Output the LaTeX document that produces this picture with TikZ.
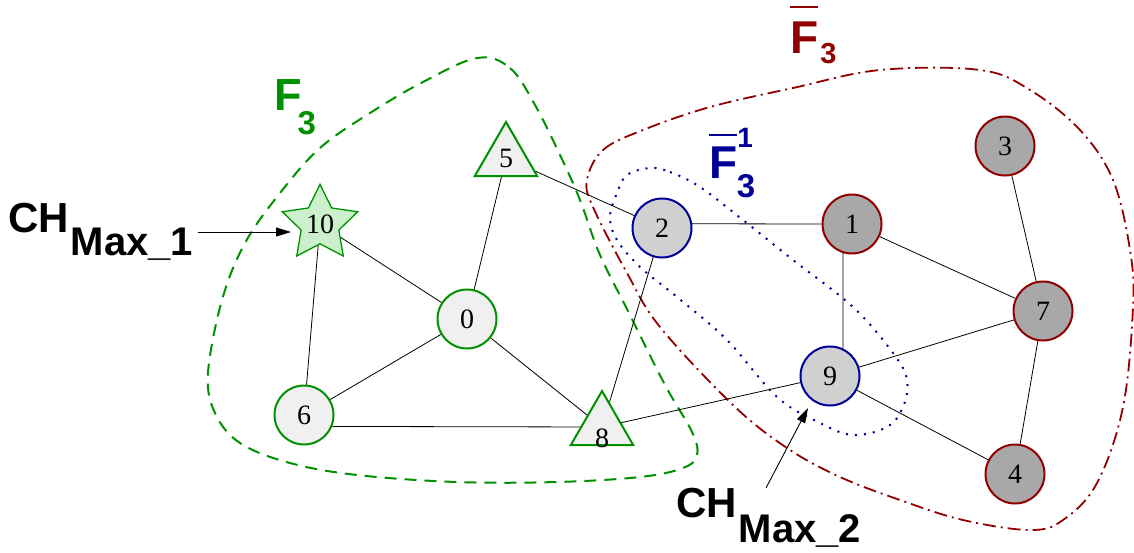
\documentclass[tikz,border=0pt]{standalone}
\usepackage{fontspec}
\setmainfont{Liberation Serif}
\setsansfont{Liberation Sans}
\usetikzlibrary{shapes.geometric,arrows.meta}
\definecolor{fgreen}{RGB}{0,145,0}
\definecolor{fred}{RGB}{145,0,0}
\definecolor{fblue}{RGB}{0,0,150}
\definecolor{lfill}{RGB}{240,240,240}
\definecolor{sfill}{RGB}{204,240,204}
\definecolor{bfill}{RGB}{208,208,208}
\definecolor{rfill}{RGB}{168,168,168}
\newcommand\ovbar[2]{\vbox{\hrule height 2pt\kern#1\hbox{#2}}}
\tikzset{
  vnode/.style={circle, line width=2pt, minimum size=59pt, inner sep=0pt,
    font=\fontsize{28}{28}\selectfont},
  gnode/.style={vnode, draw=fgreen, fill=lfill},
  bnode/.style={vnode, draw=fblue, fill=bfill},
  rnode/.style={vnode, draw=fred, fill=rfill},
  tnode/.style={regular polygon, regular polygon sides=3, draw=fgreen, fill=lfill,
    line width=2pt, minimum size=72pt, inner sep=0pt, font=\fontsize{28}{28}\selectfont},
  snode/.style={star, star points=5, star point ratio=2, draw=fgreen, fill=sfill,
    line width=1.3pt, minimum size=78pt, inner sep=0pt, font=\fontsize{28}{28}\selectfont},
  edge/.style={line width=0.8pt},
  arr/.style={line width=0.9pt, -{Triangle[length=15pt,width=9pt]}},
  lbl/.style={inner sep=0pt, anchor=base west, font=\sffamily\bfseries\fontsize{42}{42}\selectfont},
  flbl/.style={inner sep=0pt, anchor=base west, font=\sffamily\bfseries\fontsize{46}{46}\selectfont},
  gset/.style={draw=fgreen, line width=2pt, dash pattern=on 12pt off 8pt},
  rset/.style={draw=fred, line width=1.8pt, dash pattern=on 13pt off 5pt on 2pt off 5pt},
  bset/.style={draw=fblue, line width=2pt, dash pattern=on 2pt off 7pt}
}
\begin{document}
\begin{tikzpicture}[x=1pt,y=-1pt]
\useasboundingbox (0,0) rectangle (1134,552);
% sets
\draw[gset] plot[smooth cycle, tension=0.6] coordinates {
 (477,58) (510,68) (535,105) (560,155) (580,200) (600,255) (630,315) (665,385)
 (692,432) (697,455) (683,468) (640,477) (557,482) (457,482) (357,475) (290,463)
 (240,443) (215,413) (208,373) (222,300) (245,243) (280,193) (320,148) (370,113) (423,82)};
\draw[rset] plot[smooth cycle, tension=0.6] coordinates {
 (587,180) (603,150) (643,130) (710,107) (793,88) (880,70) (980,70) (1030,90)
 (1080,130) (1113,180) (1130,250) (1133,307) (1123,407) (1097,483) (1063,520)
 (1030,530) (963,520) (900,500) (840,477) (787,448) (733,405) (660,327) (627,273) (593,207)};
\draw[bset] plot[smooth cycle, tension=0.6] coordinates {
 (650,168) (670,172) (700,187) (743,220) (793,260) (853,307) (893,353) (907,380)
 (903,407) (887,427) (853,435) (820,423) (777,397) (727,340) (677,297) (640,267)
 (617,240) (610,217) (617,193) (627,175)};
% nodes
\node[snode] (n10) at (320,224) {10};
\node[tnode] (n5) at (506,158) {5};
\node[tnode] (n8) at (602,427) {\raisebox{-20pt}[0pt][0pt]{8}};
\node[gnode] (n0) at (467,319) {0};
\node[gnode] (n6) at (304,415) {6};
\node[bnode] (n2) at (662,228) {2};
\node[bnode] (n9) at (830,376) {9};
\node[rnode] (n1) at (852,224) {1};
\node[rnode] (n3) at (1005,146) {3};
\node[rnode] (n7) at (1043,311) {7};
\node[rnode] (n4) at (1015,474) {4};
% edges
\foreach \a/\b in {n10/n0, n10/n6, n5/n0, n0/n6, n0/n8, n5/n2, n2/n8,
  n1/n7, n3/n7, n9/n7, n7/n4, n9/n4, n8/n9}
  \draw[edge] (\a) -- (\b);
\draw[edge] (n6.-22) -- (n8);
\draw[edge] (n2.8) -- (n1.west);
\draw[edge] (n1.-107) -- (n9.65);
% labels
\node[lbl] (ch1) at (8,232) {CH\kern2pt\raisebox{-23pt}{\fontsize{40}{40}\selectfont Max\_1}};
\node[lbl] (ch2) at (676,517) {CH\kern2pt\raisebox{-25pt}{\fontsize{40}{40}\selectfont Max\_2}};
\coordinate (tip1) at (291,232);
\draw[arr] ([xshift=5pt]ch1.base east) -- (tip1);
\coordinate (tail2) at (766,488);
\coordinate (tip2) at (808,408);
\draw[arr] (tail2) -- (tip2);
\node[flbl, text=fgreen, font=\sffamily\bfseries\fontsize{45}{45}\selectfont] (f3) at (274,110)
  {F\kern-4pt\raisebox{-24.5pt}{\fontsize{33}{33}\selectfont 3}};
\node[flbl, text=fred] (f3bar) at (790,53)
  {\ovbar{13pt}{F}\kern2pt\raisebox{-10pt}{\fontsize{29}{29}\selectfont 3}};
\node[flbl, text=fblue] (f3bar1) at (709,178)
  {\ovbar{10pt}{F}\raisebox{31pt}{\fontsize{28}{28}\selectfont 1}\kern-16pt\raisebox{-19pt}{\fontsize{33}{33}\selectfont 3}};
\end{tikzpicture}
\end{document}
